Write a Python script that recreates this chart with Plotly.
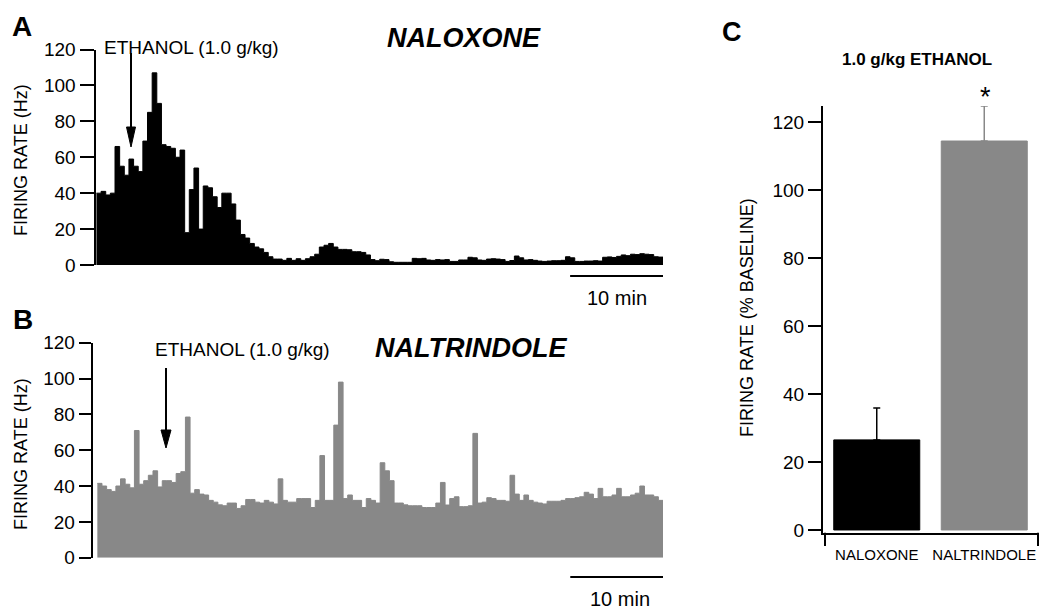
import numpy as np
import plotly.graph_objects as go

W, H = 1050, 612
OFFSET = 8  # page body margin in the browser
FONT = "Liberation Sans, Arial, sans-serif"
BLACK = "#000000"
GRAY = "#888888"

# ---------------- data ----------------
BIN_MIN = 0.5  # minutes per histogram bin

# Panel A: firing rate (Hz) after naloxone, 0.5-min bins
naloxone_hz = [
    40, 41, 39, 40, 66, 55, 50, 59, 55, 52,
    69, 85, 107, 90, 67, 66, 65, 60, 64, 18,
    42, 54, 20, 44, 43, 38, 32, 40, 40, 34,
    25, 17, 15, 12, 10, 9, 7, 4.6, 3.3, 3.3,
    2.6, 3.7, 2.6, 3.5, 2.6, 3.5, 4.6, 6, 10, 11,
    12, 10, 8.7, 8.7, 8.5, 7.4, 7.4, 7, 5.6, 3,
    2.4, 3.2, 3, 1.8, 1.5, 1.5, 1.5, 1.5, 3.7, 3.5,
    3.7, 2.8, 2.6, 3, 2.8, 3, 2, 2, 2.8, 2.8,
    4.3, 4, 2.8, 2.6, 3.3, 3.5, 3.3, 3, 2, 2.5,
    5, 4, 2.8, 3, 2.6, 2.2, 2, 2.2, 2.4, 2.4,
    2.6, 4.6, 4, 2, 2, 2.2, 2.2, 2.4, 2.2, 4.3,
    4.5, 4.2, 4.8, 5.6, 5.2, 6, 5.8, 6.3, 6, 5.8,
    4.6, 4.4,
]

# Panel B: firing rate (Hz) after naltrindole, 0.5-min bins
naltrindole_hz = [
    41.5, 40, 38, 37, 40, 44, 41, 39, 71, 41,
    43, 46, 48.5, 39.5, 43, 43, 42, 47, 48, 78.5,
    36, 38, 35.5, 35, 32, 31, 29.5, 29, 30.5, 30.5,
    27.5, 29, 32.5, 32.5, 31, 30.5, 32, 31, 30, 44,
    32, 31, 31, 33, 33, 33, 28, 32, 57, 32,
    32, 74, 98, 33, 35, 32, 32, 28, 33, 32,
    30.5, 53, 48.5, 43, 30.5, 30.5, 29.5, 29, 29, 29,
    28, 28, 28, 30.5, 42, 29.4, 33, 34, 28.5, 28.5,
    29, 69.4, 30.5, 31, 33.5, 33, 32, 32, 31.5, 46,
    35.5, 32, 35, 32, 31, 30.5, 30, 31.5, 31.5, 31.5,
    32, 33, 33, 33.5, 34, 36.5, 35.5, 33, 38.7, 34,
    34, 35, 38.7, 34, 34, 35, 36, 40, 35, 35,
    34, 32,
]

# Panel C: summary bars
groups = ["NALOXONE", "NALTRINDOLE"]
pct_baseline = [26.5, 114.4]
sem_pct = [9.4, 10.3]
group_colors = [BLACK, GRAY]

hz_ticks = [0, 20, 40, 60, 80, 100, 120]
pct_ticks = [0, 20, 40, 60, 80, 100, 120]
scale_bar_min = [51, 61]  # 10-min scale bar


# ---------------- helpers (screen pixels -> paper) ----------------
def px(x):
    return (x - OFFSET) / W


def py(y):
    return 1 - (y - OFFSET) / H


def step_xy(vals):
    edges = np.arange(len(vals) + 1) * BIN_MIN
    return edges, list(vals) + [vals[-1]]


fig = go.Figure()

xa, ya = step_xy(naloxone_hz)
fig.add_trace(go.Scatter(
    x=xa, y=ya, xaxis="x", yaxis="y", mode="lines",
    line=dict(shape="hv", color=BLACK, width=1),
    fill="tozeroy", fillcolor=BLACK, hoverinfo="skip", showlegend=False))

xb, yb = step_xy(naltrindole_hz)
fig.add_trace(go.Scatter(
    x=xb, y=yb, xaxis="x2", yaxis="y2", mode="lines",
    line=dict(shape="hv", color=GRAY, width=1),
    fill="tozeroy", fillcolor=GRAY, hoverinfo="skip", showlegend=False))

for g, v, e, c in zip(groups, pct_baseline, sem_pct, group_colors):
    fig.add_trace(go.Bar(
        x=[g], y=[v], xaxis="x3", yaxis="y3", width=0.8,
        marker=dict(color=c, line=dict(color=c, width=1)),
        error_y=dict(type="data", array=[e], arrayminus=[0], symmetric=False,
                     color=c, thickness=1.5, width=3.5),
        hoverinfo="skip", showlegend=False))

common_y = dict(
    showline=True, linecolor=BLACK, linewidth=2, ticks="outside",
    tickcolor=BLACK, tickwidth=2, showgrid=False, zeroline=False,
    automargin=False, tickfont=dict(size=19, color=BLACK, family=FONT))

fig.update_layout(
    template="none",
    width=W, height=H, margin=dict(l=0, r=0, t=0, b=0, pad=0),
    plot_bgcolor="white", paper_bgcolor="white", barmode="overlay",
    showlegend=False, font=dict(family=FONT, color=BLACK),
    xaxis=dict(domain=[px(95.5), px(663)], range=[-0.1, 61], visible=False,
               anchor="y", automargin=False),
    yaxis=dict(domain=[py(265), py(49.5)], range=[0, 120], tickvals=hz_ticks,
               ticklen=14, anchor="x", **common_y),
    xaxis2=dict(domain=[px(92.7), px(663)], range=[-0.5, 61], visible=False,
                anchor="y2", automargin=False),
    yaxis2=dict(domain=[py(557.7), py(342.7)], range=[0, 120], tickvals=hz_ticks,
                ticklen=12, anchor="x2", **common_y),
    xaxis3=dict(domain=[px(823), px(1038)], range=[-0.5, 1.5], type="category",
                categoryorder="array", categoryarray=groups,
                showline=True, linecolor=BLACK, linewidth=2, ticks="",
                showgrid=False, zeroline=False, ticklabelstandoff=7, automargin=False,
                tickfont=dict(size=15, color=BLACK, family=FONT), anchor="y3"),
    yaxis3=dict(domain=[py(532.7), py(106)], range=[-0.8, 124.7], tickvals=pct_ticks,
                ticklen=13, anchor="x3",
                **{**common_y, "tickfont": dict(size=19, color=BLACK, family=FONT)}),
)

ann = []


def text(t, x, y, size, bold=False, italic=False, angle=0):
    s = t
    if bold:
        s = "<b>" + s + "</b>"
    if italic:
        s = "<i>" + s + "</i>"
    ann.append(dict(text=s, x=px(x), y=py(y), xref="paper", yref="paper",
                    xanchor="center", yanchor="middle", showarrow=False,
                    textangle=angle, font=dict(size=size, color=BLACK, family=FONT)))


text("A", 22, 26, 28, bold=True)
text("B", 23, 319, 28, bold=True)
text("C", 732, 32, 27, bold=True)
text("NALOXONE", 464, 38, 27, bold=True, italic=True)
text("NALTRINDOLE", 471, 348, 27, bold=True, italic=True)
text("ETHANOL (1.0 g/kg)", 191, 47, 19)
text("ETHANOL (1.0 g/kg)", 242, 349, 19)
text("1.0 g/kg ETHANOL", 917, 59, 17, bold=True)
text("*", 985, 97, 27)
text("10 min", 617, 298, 20)
text("10 min", 620, 599, 20)
text("FIRING RATE (Hz)", 21, 160, 18, angle=-90)
text("FIRING RATE (Hz)", 21, 454, 18, angle=-90)
text("FIRING RATE (% BASELINE)", 747, 318, 18, angle=-90)

shapes = []
# scale bars (10 min)
shapes.append(dict(type="line", xref="x", yref="paper", x0=scale_bar_min[0], x1=scale_bar_min[1],
                   y0=py(276), y1=py(276), line=dict(color=BLACK, width=2)))
shapes.append(dict(type="line", xref="x2", yref="paper", x0=scale_bar_min[0], x1=scale_bar_min[1],
                   y0=py(577), y1=py(577), line=dict(color=BLACK, width=2)))


def arrow(x, y_top, y_head, y_tip, half):
    shapes.append(dict(type="line", xref="paper", yref="paper", x0=px(x), x1=px(x),
                       y0=py(y_top), y1=py(y_head + 1), line=dict(color=BLACK, width=2)))
    path = "M {} {} L {} {} L {} {} Z".format(
        px(x - half), py(y_head), px(x + half), py(y_head), px(x), py(y_tip))
    shapes.append(dict(type="path", xref="paper", yref="paper", path=path,
                       fillcolor=BLACK, line=dict(color=BLACK, width=1)))


arrow(131, 53, 127, 147, 4.5)
arrow(166, 368, 430, 448, 5)

# end ticks on panel C x axis
for xx in (825, 1038):
    shapes.append(dict(type="line", xref="paper", yref="paper", x0=px(xx), x1=px(xx),
                       y0=py(532.7), y1=py(546), line=dict(color=BLACK, width=2)))

fig.update_layout(annotations=ann, shapes=shapes)
fig.write_html("out.html", config={"displayModeBar": False})
